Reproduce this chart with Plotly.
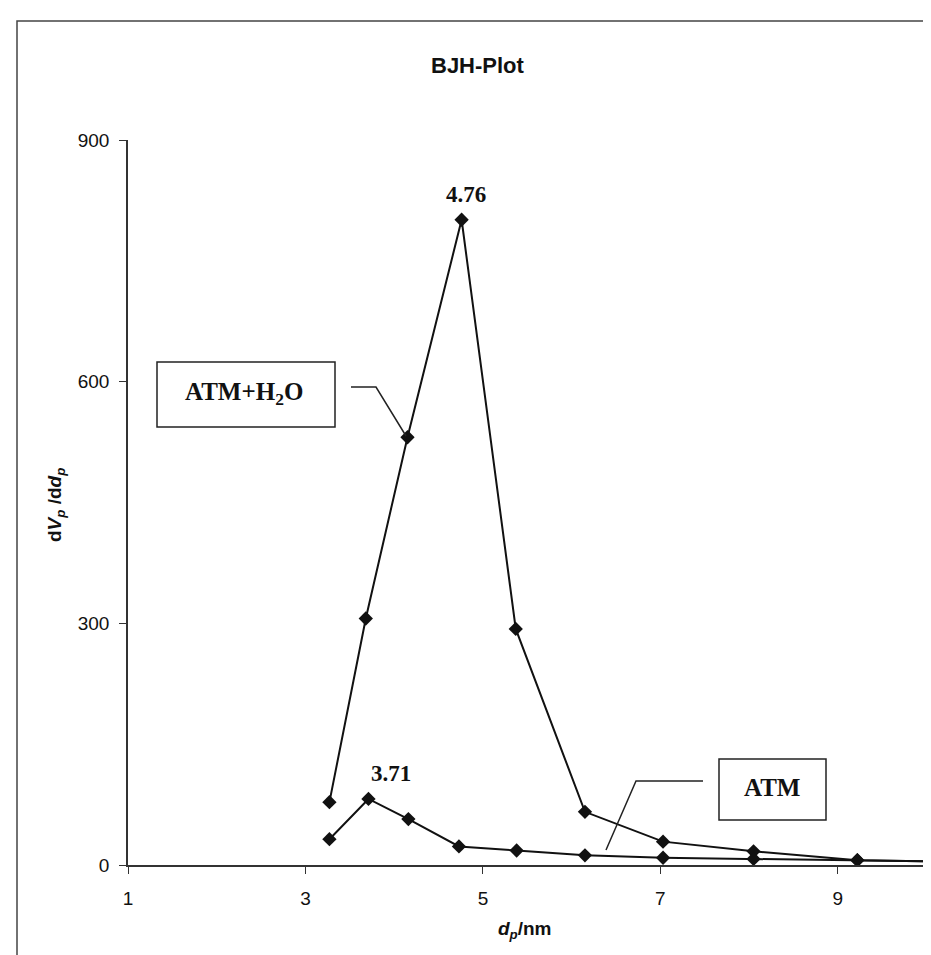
import plotly.graph_objects as go

# ---- data ----
dp_atm_h2o = [3.27, 3.68, 4.15, 4.76, 5.37, 6.15, 7.03, 8.05, 9.22, 11.0]
dv_atm_h2o = [78, 306, 531, 801, 293, 66, 29, 17, 6, 3]
dp_atm = [3.27, 3.71, 4.16, 4.73, 5.38, 6.15, 7.03, 8.05, 9.22, 11.0]
dv_atm = [32, 82, 57, 23, 18, 12, 9, 7.5, 6, 3]

x_ticks = [1, 3, 5, 7, 9]
y_ticks = [0, 300, 600, 900]

title_text = "BJH-Plot"
x_title = "<b><i>d</i><sub><i>p</i></sub>/nm</b>"
y_title = "<b>d<i>V</i><sub><i>p</i></sub> /d<i>d</i><sub><i>p</i></sub></b>"

# ---- layout geometry (pixels) ----
W, H = 931, 955
L, R, T, B = 120, 8, 132, 98
PW, PH = W - L - R, H - T - B


def px(x):
    return (x - L) / PW


def py(y):
    return (H - B - y) / PH


SERIF = "Liberation Serif, Times New Roman, serif"
SANS = "Liberation Sans, Arial, sans-serif"

fig = go.Figure()
for xs, ys in [(dp_atm_h2o, dv_atm_h2o), (dp_atm, dv_atm)]:
    fig.add_trace(go.Scatter(
        x=xs, y=ys, mode="lines+markers",
        line=dict(color="#111", width=2),
        marker=dict(symbol="diamond", size=11, color="#111"),
        showlegend=False, hoverinfo="x+y",
    ))

shapes = [
    # outer chart border
    dict(type="rect", xref="paper", yref="paper",
         x0=px(9), x1=px(926), y0=py(13), y1=py(951),
         line=dict(color="#444", width=1.5)),
    # ATM+H2O box
    dict(type="rect", xref="paper", yref="paper",
         x0=px(149), x1=px(327), y0=py(354), y1=py(419),
         line=dict(color="#222", width=1.5), fillcolor="white"),
    # ATM box
    dict(type="rect", xref="paper", yref="paper",
         x0=px(711), x1=px(818), y0=py(751), y1=py(812),
         line=dict(color="#222", width=1.5), fillcolor="white"),
    # leader ATM+H2O
    dict(type="path", xref="paper", yref="paper",
         path=f"M {px(343)} {py(379)} L {px(368)} {py(379)} L {px(398)} {py(428)}",
         line=dict(color="#222", width=1.5)),
    # leader ATM
    dict(type="path", xref="paper", yref="paper",
         path=f"M {px(695)} {py(773)} L {px(628)} {py(773)} L {px(598)} {py(842)}",
         line=dict(color="#222", width=1.5)),
]

annotations = [
    dict(text="<b>" + title_text + "</b>", xref="paper", yref="paper", x=px(470), y=py(57),
         showarrow=False, font=dict(family=SANS, size=22, color="#111"),
         xanchor="center", yanchor="middle"),
    dict(text="<b>ATM+H<sub>2</sub>O</b>", xref="paper", yref="paper", x=px(236), y=py(385),
         showarrow=False, font=dict(family=SERIF, size=25, color="#111"),
         xanchor="center", yanchor="middle"),
    dict(text="<b>ATM</b>", xref="paper", yref="paper", x=px(764), y=py(779),
         showarrow=False, font=dict(family=SERIF, size=25, color="#111"),
         xanchor="center", yanchor="middle"),
    dict(text="<b>4.76</b>", xref="paper", yref="paper", x=px(458), y=py(186),
         showarrow=False, font=dict(family=SERIF, size=23, color="#111"),
         xanchor="center", yanchor="middle"),
    dict(text="<b>3.71</b>", xref="paper", yref="paper", x=px(383), y=py(765),
         showarrow=False, font=dict(family=SERIF, size=23, color="#111"),
         xanchor="center", yanchor="middle"),
    dict(text=x_title, xref="paper", yref="paper", x=px(517), y=py(922),
         showarrow=False, font=dict(family=SANS, size=19, color="#111"),
         xanchor="center", yanchor="middle"),
    dict(text=y_title, xref="paper", yref="paper", x=px(48), y=py(497),
         showarrow=False, textangle=-90, font=dict(family=SANS, size=19, color="#111"),
         xanchor="center", yanchor="middle"),
]

fig.update_layout(
    width=W, height=H,
    margin=dict(l=L, r=R, t=T, b=B, pad=0),
    paper_bgcolor="white", plot_bgcolor="white",
    shapes=shapes, annotations=annotations,
    xaxis=dict(range=[1, 10.05], tickvals=x_ticks, ticktext=[str(v) for v in x_ticks],
               showgrid=False, zeroline=False, showline=True, linecolor="#333", linewidth=1.6,
               ticks="outside", ticklen=7, tickwidth=1.3, tickcolor="#333",
               tickfont=dict(family=SANS, size=19, color="#111"), ticklabelstandoff=8),
    yaxis=dict(range=[0, 900], tickvals=y_ticks, ticktext=[str(v) for v in y_ticks],
               showgrid=False, zeroline=False, showline=True, linecolor="#333", linewidth=1.6,
               ticks="outside", ticklen=7, tickwidth=1.3, tickcolor="#333",
               tickfont=dict(family=SANS, size=19, color="#111"), ticklabelstandoff=6),
)

fig.write_html("out.html")
